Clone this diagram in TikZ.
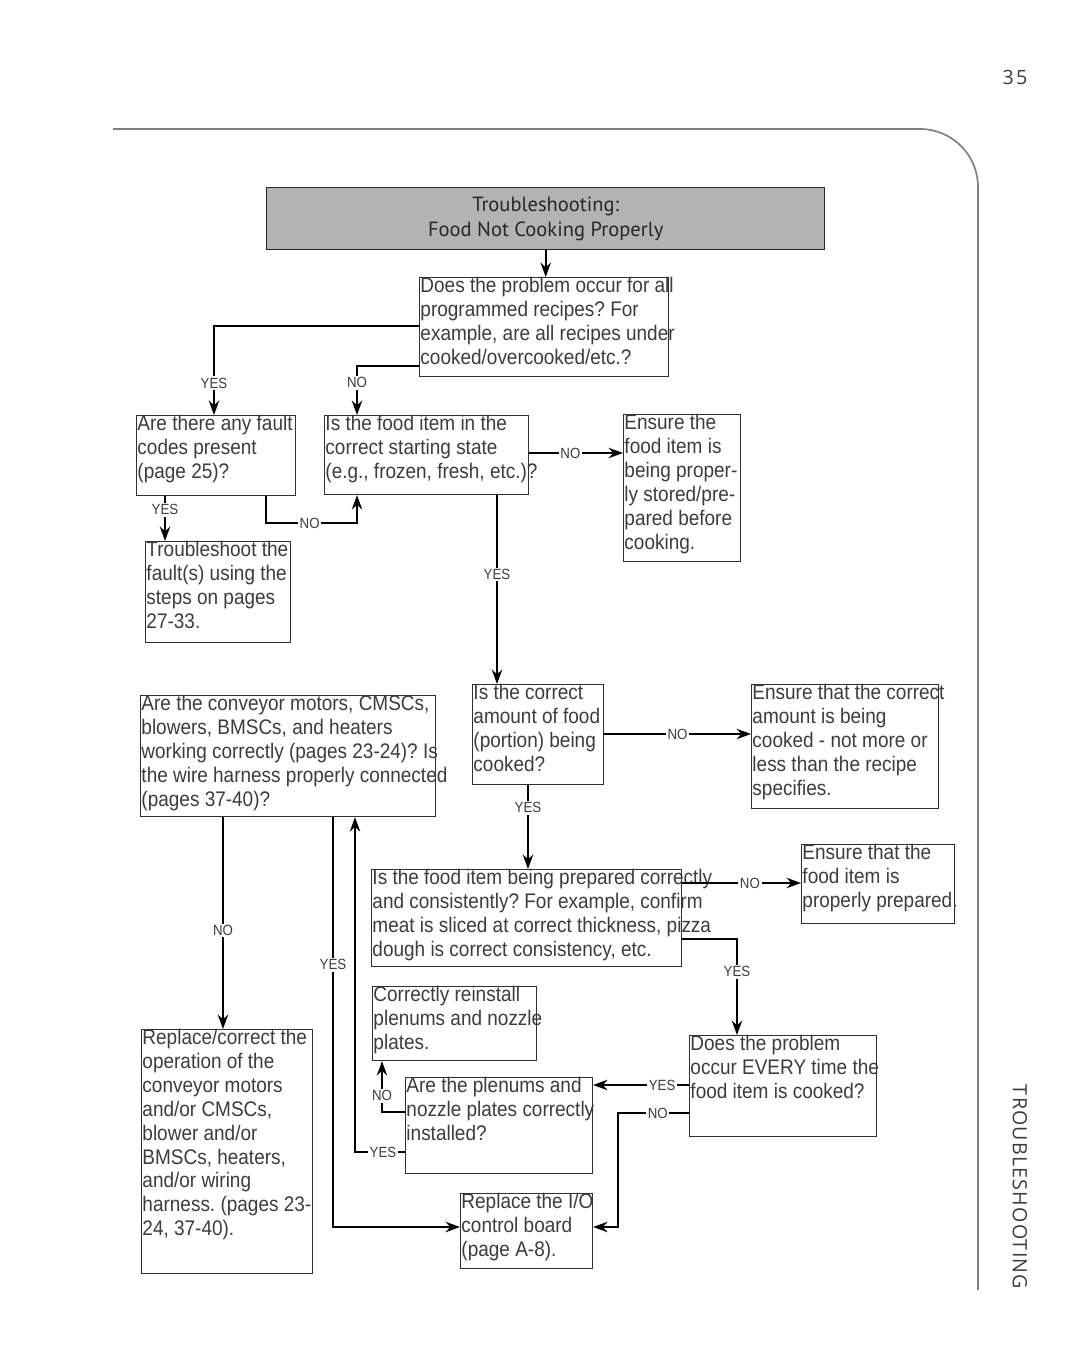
\documentclass[tikz,border=0pt]{standalone}
\usepackage{fontspec}
\setmainfont{Liberation Sans}[FakeStretch=0.9]
\newfontfamily\titlefont{PT Sans}
\newfontfamily\pagefont{Open Sans}[LetterSpace=12]
\newfontfamily\sidefont{Open Sans}[LetterSpace=6]
\usetikzlibrary{arrows.meta}
\definecolor{ink}{HTML}{3C3C3C}
\definecolor{hdrgray}{HTML}{B3B3B3}
\definecolor{framegray}{HTML}{808080}
\frenchspacing

\begin{document}
\begin{tikzpicture}[x=0.25mm, y=-0.25mm,
	box/.style 2 args={draw=ink!80!black, line width=0.8pt, inner sep=0pt, anchor=north west, minimum width=#1*0.25mm, minimum height=#2*0.25mm},
	txt/.style={anchor=north west, inner sep=0pt, align=left, text=ink, font=\fontsize{15}{17}\selectfont, xshift=0.3mm},
	conn/.style={line width=1.4pt, -{Stealth[length=3.6mm, width=2.6mm]}},
	lab/.style={fill=white, inner sep=1.2pt, text=ink, font=\fontsize{10.5}{12}\selectfont}]
		\useasboundingbox (0,0) rectangle (1080,1366);
		
		% page frame
		\draw[framegray, line width=1.2pt, rounded corners=14.5mm] (113,129) -- (978,129) -- (978,1290);
		\node[font=\pagefont\fontsize{14}{16}\selectfont, text=ink] (pagenum) at (1015,77) {35};
		\node[rotate=-90, font=\sidefont\fontsize{14}{16}\selectfont, text=ink] (side) at (1020,1187) {TROUBLESHOOTING};
		
		\node[box={558}{62}, draw=black!85, line width=1pt, fill=hdrgray, align=center, text=black!85, font=\titlefont\fontsize{14.6}{18}\selectfont] (title) at (266,187) {Troubleshooting:\\Food Not Cooking Properly};
		
		\node[box={249}{99}, label={[txt]north west:{Does the problem occur for all\\programmed recipes? For\\example, are all recipes under\\cooked/overcooked/etc.?}}] (q1) at (419,277) {};
		\node[box={159}{80}, label={[txt]north west:{Are there any fault\\codes present\\(page 25)?}}] (q2) at (136,415) {};
		\node[box={204}{79}, label={[txt]north west:{Is the food item in the\\correct starting state\\(e.g., frozen, fresh, etc.)?}}] (q3) at (324,415) {};
		\node[box={117}{147}, label={[txt]north west:{Ensure the\\food item is\\being proper-\\ly stored/pre-\\pared before\\cooking.}}] (a1) at (623,414) {};
		\node[box={145}{101}, label={[txt]north west:{Troubleshoot the\\fault(s) using the\\steps on pages\\27-33.}}] (a2) at (145,541) {};
		\node[box={295}{121}, label={[txt]north west:{Are the conveyor motors, CMSCs,\\blowers, BMSCs, and heaters\\working correctly (pages 23-24)? Is\\the wire harness properly connected\\(pages 37-40)?}}] (q4) at (140,695) {};
		\node[box={131}{100}, label={[txt]north west:{Is the correct\\amount of food\\(portion) being\\cooked?}}] (q5) at (472,684) {};
		\node[box={187}{124}, label={[txt]north west:{Ensure that the correct\\amount is being\\cooked - not more or\\less than the recipe\\specifies.}}] (a3) at (751,684) {};
		\node[box={310}{97}, label={[txt]north west:{Is the food item being prepared correctly\\and consistently? For example, confirm\\meat is sliced at correct thickness, pizza\\dough is correct consistency, etc.}}] (q6) at (371,869) {};
		\node[box={153}{79}, label={[txt]north west:{Ensure that the\\food item is\\properly prepared.}}] (a4) at (801,844) {};
		\node[box={164}{74}, label={[txt]north west:{Correctly reinstall\\plenums and nozzle\\plates.}}] (a5) at (372,986) {};
		\node[box={187}{101}, label={[txt]north west:{Does the problem\\occur EVERY time the\\food item is cooked?}}] (q7) at (689,1035) {};
		\node[box={187}{96}, label={[txt]north west:{Are the plenums and\\nozzle plates correctly\\installed?}}] (q8) at (405,1077) {};
		\node[box={171}{244}, label={[txt]north west:{Replace/correct the\\operation of the\\conveyor motors\\and/or CMSCs,\\blower and/or\\BMSCs, heaters,\\and/or wiring\\harness. (pages 23-\\24, 37-40).}}] (a6) at (141,1029) {};
		\node[box={132}{75}, label={[txt]north west:{Replace the I/O\\control board\\(page A-8).}}] (a7) at (460,1193) {};
		
		\draw[conn] (title.south) -- (q1.north -| title.south);
		\draw[conn] (q1.west |- 0,326) -| node[lab, pos=0.82] {YES} (q2.north -| 214,0);
		\draw[conn] (q1.west |- 0,366) -| node[lab, pos=0.67] {NO} (q3.north -| 357,0);
		\draw[conn] (q2.south -| 165,0) -- node[lab, pos=0.3] {YES} (a2.north -| 165,0);
		\draw[conn] (q2.south -| 266,0) |- node[lab, pos=0.74] {NO} (357,523) -- (q3.south -| 357,0);
		\draw[conn] (q3.east |- 0,453) -- node[lab, pos=0.44] {NO} (a1.west |- 0,453);
		\draw[conn] (q3.south -| 497,0) -- node[lab, pos=0.42] {YES} (q5.north -| 497,0);
		\draw[conn] (q5.east |- 0,734) -- node[lab, pos=0.5] {NO} (a3.west |- 0,734);
		\draw[conn] (q5.south -| 528,0) -- node[lab, pos=0.27] {YES} (q6.north -| 528,0);
		\draw[conn] (q6.east |- 0,883) -- node[lab, pos=0.57] {NO} (a4.west |- 0,883);
		\draw[conn] (q6.east |- 0,939) -| node[lab, pos=0.67] {YES} (q7.north -| 737,0);
		\draw[conn] (q7.west |- 0,1085) -- node[lab, pos=0.28] {YES} (q8.east |- 0,1085);
		\draw[conn] (q7.west |- 0,1113) -| node[lab, pos=0.22] {NO} (618,1227) -- (a7.east |- 0,1227);
		\draw[conn] (q8.west |- 0,1112) -| node[lab, pos=0.66] {NO} (a5.south -| 382,0);
		\draw[conn] (q8.west |- 0,1152) -| node[lab, pos=0.22] {YES} (q4.south -| 355,0);
		\draw[conn] (q4.south -| 223,0) -- node[lab, pos=0.535] {NO} (a6.north -| 223,0);
		\draw[conn] (q4.south -| 333,0) |- node[lab, pos=0.18] {YES} (a7.west |- 0,1227);
		
	\end{tikzpicture}
\end{document}
